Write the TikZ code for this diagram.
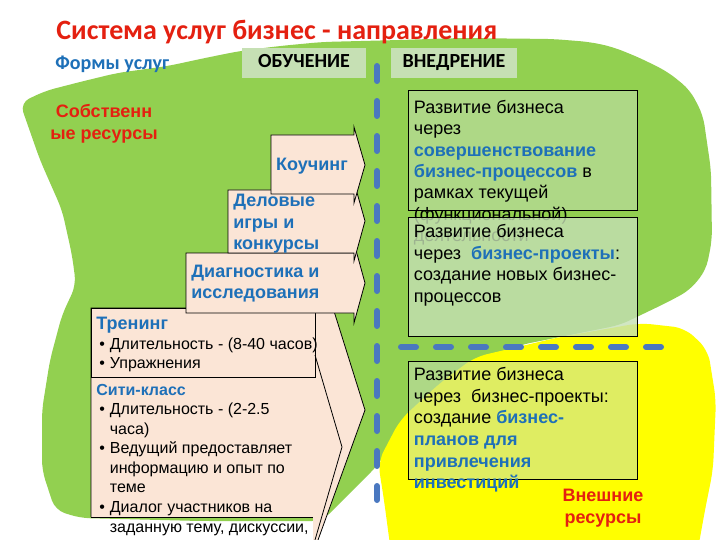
\documentclass[tikz,border=0pt]{standalone}
\usepackage{fontspec}
\setmainfont{Liberation Sans}
\newfontfamily\calibri{Carlito}

\definecolor{blobgreen}{HTML}{92D050}
\definecolor{blobyellow}{HTML}{FFFF00}
\definecolor{peach}{HTML}{FBE5D6}
\definecolor{headgreen}{HTML}{C6E0B4}
\definecolor{boxgreen}{HTML}{C5E0B4}
\definecolor{txtblue}{RGB}{30,112,184}
\definecolor{txtred}{RGB}{228,32,16}
\definecolor{dashblue}{RGB}{74,120,192}

\newcommand\fs[2]{\fontsize{#1}{#2}\selectfont}
\newcommand\bb[1]{\textbf{\textcolor{txtblue}{#1}}}
\newcommand\bul{\makebox[10.5pt][l]{\textbullet}}
\newcommand\ind{\hspace*{10.5pt}}

\begin{document}
\begin{tikzpicture}[x=1pt,y=-1pt,line width=0.8pt,
    plate/.style={fill=peach,draw=black},
    rbox/.style={fill=boxgreen,fill opacity=0.55,draw=black},
    headbox/.style={fill=headgreen,inner sep=0pt,minimum height=30pt,
      text height=13pt,text depth=3pt,font=\calibri\bfseries\fs{20}{24}},
    dashline/.style={dashblue,line width=6pt,line cap=round,dash pattern=on 15pt off 20pt},
    txt/.style={inner sep=0pt,anchor=north west,align=left}]
  \useasboundingbox (0,0) rectangle (720,540);

  % background blobs
  \fill[blobgreen,rounded corners=10pt] (20,103) -- (45,91) -- (80,82) -- (117,73) -- (168,66)
    -- (205,58) -- (240,51) -- (280,46) -- (322,42) -- (400,40) -- (460,38) -- (553,39)
    -- (590,42) -- (613,47) -- (640,58) -- (668,72) -- (690,90) -- (703,115) -- (711,170)
    -- (712,240) -- (706,270) -- (690,290) -- (668,302) -- (620,325) -- (520,345)
    -- (450,375) -- (400,430) -- (378,465) -- (322,521) -- (200,521) -- (80,518)
    -- (55,510) -- (42,470) -- (42,410) -- (50,360) -- (62,315) -- (76,285) -- (72,255)
    -- (62,210) -- (40,160) -- cycle;
  \fill[blobyellow,rounded corners=12pt] (378,462) -- (400,420) -- (440,383) -- (475,357)
    -- (560,337) -- (640,323) -- (685,328) -- (708,350) -- (716,400) -- (713,470)
    -- (705,510) -- (696,560) -- (392,560) -- (384,500) -- cycle;

  % headings
  \node[anchor=west,inner sep=0pt,text=txtred,font=\calibri\bfseries\fs{28}{32}] (title) at (56,32)
    {Система услуг бизнес - направления};
  \node[anchor=west,inner sep=0pt,text=txtblue,font=\calibri\bfseries\fs{20}{24}] (forms) at (55,64)
    {Формы услуг};
  \node[headbox,minimum width=124pt] (obuch) at (304,63) {ОБУЧЕНИЕ};
  \node[headbox,minimum width=126pt] (vnedr) at (454,63) {ВНЕДРЕНИЕ};
  \node[align=center,inner sep=0pt,text=txtred,font=\bfseries\fs{18}{22}] (own) at (104,124)
    {Собственн\\ые ресурсы};

  \draw[dashline] (377,66) -- (377,500);
  \draw[dashline] (401,347) -- (661,347);

  % training arrows
  \fill[peach] (91,308) -- (333,308) -- (365,410) -- (318,540) -- (313,540) -- (313,517) -- (91,517) -- cycle;
  \draw (91,517) -- (91,308) -- (333,308) -- (365,410) -- (318,540);
  \draw (315,355) -- (342,447) -- (315,540);
  \draw (91,308) rectangle (315,377);
  \draw (91,517) -- (313,517);
  \node[txt,font=\bfseries\fs{18}{21}] (trenHead) at (96,317) {\textcolor{txtblue}{Тренинг}};
  \node[txt,font=\fs{16}{19.5}] (trenList) at (99,337.5)
    {\bul Длительность - (8-40 часов)\\ \bul Упражнения};
  \node[txt,font=\bfseries\fs{16}{19.5}] (cityHead) at (96,384) {\textcolor{txtblue}{Сити-класс}};
  \node[txt,font=\fs{16}{19.6}] (cityList) at (99,402.5)
    {\bul Длительность - (2-2.5\\ \ind часа)\\ \bul Ведущий предоставляет\\
     \ind информацию и опыт по\\ \ind теме\\ \bul Диалог участников на\\
     \ind заданную тему, дискуссии,};

  \draw[plate] (186,253) -- (354,253) -- (354,243) -- (365,283) -- (354,323) -- (354,313) -- (186,313) -- cycle;
  \node[txt,font=\bfseries\fs{18}{20.5},text=txtblue] (diag) at (191,265) {Диагностика и\\исследования};
  \draw[plate] (228,190) -- (354,190) -- (354,182) -- (365,221) -- (354,261) -- (354,253) -- (228,253) -- cycle;
  \node[txt,font=\bfseries\fs{18}{21.5},text=txtblue] (games) at (233,194) {Деловые\\игры и\\конкурсы};
  \draw[plate] (271,135) -- (354,135) -- (354,127) -- (365,165) -- (354,203) -- (354,194) -- (271,194) -- cycle;
  \node[inner sep=0pt,font=\bfseries\fs{18}{21.5},text=txtblue] (coach) at (312,166) {Коучинг};

  % implementation boxes
  \draw[rbox] (408,90) rectangle (637,210);
  \node[txt,font=\fs{18}{21.3}] (devA) at (413.5,100)
    {Развитие бизнеса\\через\\\bb{совершенствование}\\\bb{бизнес-процессов} в\\
     рамках текущей\\(функциональной)\\деятельности};
  \draw[rbox,fill opacity=0.8] (408,217) rectangle (637,336);
  \node[txt,font=\fs{18}{21.5}] (devB) at (413.5,224)
    {Развитие бизнеса\\через \ \bb{бизнес-проекты}:\\создание новых бизнес-\\процессов};
  \draw[rbox] (408,361) rectangle (637,479);
  \node[txt,font=\fs{18}{21.6}] (devC) at (413.5,367)
    {Развитие бизнеса\\через \ бизнес-проекты:\\создание \bb{бизнес-}\\\bb{планов для}\\
     \bb{привлечения}\\\bb{инвестиций}};
  \node[align=center,inner sep=0pt,text=txtred,font=\bfseries\fs{18}{22}] (ext) at (603,508)
    {Внешние\\ресурсы};
\end{tikzpicture}
\end{document}
